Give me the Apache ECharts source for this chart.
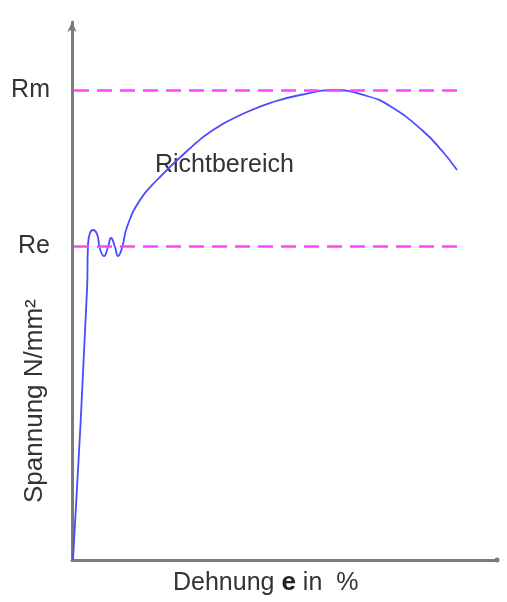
<!DOCTYPE html>
<html>
<head>
<meta charset="utf-8">
<script src="https://cdn.jsdelivr.net/npm/echarts@6/dist/echarts.min.js"></script>
<style>
html,body{margin:0;padding:0;background:#fff;}
#chart{width:507px;height:602px;}
</style>
</head>
<body>
<div id="chart"></div>
<script>
// Strain (x) and stress (y), arbitrary units
var strain = [1, 15, 16, 18, 21, 25, 28, 32, 36, 39, 43, 46, 50, 55, 68, 85, 115, 141, 175, 201, 228, 261, 295, 318, 351, 371, 385];
var stress = [0, 270, 315, 327, 330, 326, 311, 304, 313, 322, 313, 304, 312, 333, 360, 380, 409, 430, 448, 458, 465, 470, 464, 454, 429, 408, 390];
var tickValues = [314, 470];
var tickLabels = ['Re', 'Rm'];
var refStart = 2;
var refEnd = 386;
var xTitle = 'Dehnung';
var yTitle = 'Spannung N/mm²';
var regionLabel = 'Richtbereich';

var curve = strain.map(function (x, i) { return [x, stress[i]]; });
var refLines = tickValues.map(function (v) {
  return [{ coord: [refStart, v] }, { coord: [refEnd, v] }];
});

var chart = echarts.init(document.getElementById('chart'), null, { renderer: 'canvas' });
var font = 'Liberation Sans, Arial, sans-serif';
chart.setOption({
  animation: false,
  backgroundColor: '#ffffff',
  grid: { left: 72, right: 10, top: 22, bottom: 42 },
  xAxis: {
    type: 'value', min: 0, max: 425,
    axisLine: { show: true, lineStyle: { color: '#7a7a7a', width: 3 }, symbol: ['none', 'circle'], symbolSize: [7, 5] },
    axisTick: { show: false }, axisLabel: { show: false }, splitLine: { show: false }
  },
  yAxis: {
    type: 'value', min: 0, max: 538,
    axisLine: { show: true, lineStyle: { color: '#7a7a7a', width: 3 }, symbol: ['none', 'arrow'], symbolSize: [7, 10] },
    axisTick: { show: false }, splitLine: { show: false },
    axisLabel: {
      show: true, customValues: tickValues, margin: 22,
      color: '#333', fontSize: 25, fontFamily: font,
      formatter: function (v) { var i = tickValues.indexOf(v); return i >= 0 ? tickLabels[i] : ''; }
    }
  },
  graphic: [
    { type: 'text', left: 155, top: 153, style: { text: regionLabel, fontSize: 25, fontFamily: font, fill: '#333' } },
    {
      type: 'text', left: 173, top: 570,
      style: {
        text: '{n|' + xTitle + ' }{b|e}{n| in  %}',
        rich: {
          n: { fontSize: 25, fontFamily: font, fill: '#333' },
          b: { fontSize: 26, fontFamily: font, fontWeight: 'bold', fill: '#222' }
        }
      }
    },
    {
      type: 'text', x: 22, y: 503, rotation: Math.PI / 2,
      style: { text: yTitle, fontSize: 26, fontFamily: font, fill: '#333', align: 'left', verticalAlign: 'top' }
    }
  ],
  series: [{
    type: 'line', data: curve, smooth: 0.5, symbol: 'none',
    lineStyle: { color: '#4a4aff', width: 1.8 },
    markLine: {
      silent: true, symbol: ['none', 'none'], label: { show: false },
      lineStyle: { color: '#ff44ff', width: 2.5, type: [15, 8] },
      data: refLines
    }
  }]
});
</script>
</body>
</html>
